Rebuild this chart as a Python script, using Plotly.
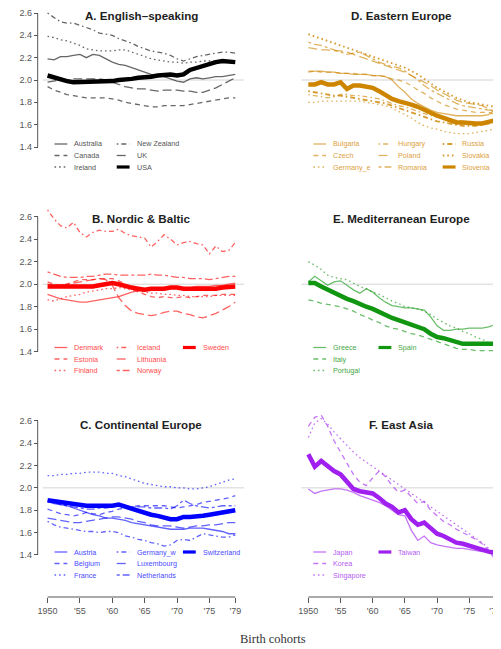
import plotly.graph_objects as go

# ---------------- data (completed cohort fertility) ----------------
years = list(range(1950, 1980))
tick_years = [1950, 1955, 1960, 1965, 1970, 1975, 1979]
tick_labels = ["1950", "'55", "'60", "'65", "'70", "'75", "'79"]
y_ticks = [1.4, 1.6, 1.8, 2.0, 2.2, 2.4, 2.6]
y_tick_labels = ["1.4", "1.6", "1.8", "2.0", "2.2", "2.4", "2.6"]

# A. English-speaking
australia = [2.19, 2.18, 2.21, 2.21, 2.22, 2.23, 2.20, 2.23, 2.22, 2.19, 2.16, 2.14, 2.13, 2.11, 2.09,
             2.07, 2.05, 2.04, 2.03, 2.01, 1.99, 1.98, 2.01, 2.02, 2.01, 2.02, 2.03, 2.03, 2.04, 2.05]
canada = [1.94, 1.91, 1.89, 1.87, 1.86, 1.85, 1.84, 1.84, 1.84, 1.84, 1.83, 1.82, 1.80, 1.79, 1.78,
          1.77, 1.76, 1.76, 1.77, 1.77, 1.77, 1.77, 1.78, 1.79, 1.80, 1.81, 1.82, 1.83, 1.84, 1.84]
ireland = [2.39, 2.38, 2.36, 2.35, 2.33, 2.31, 2.28, 2.27, 2.26, 2.26, 2.26, 2.27, 2.27, 2.25, 2.23,
           2.21, 2.19, 2.18, 2.17, 2.16, 2.16, 2.15, 2.16, 2.16, 2.17, 2.17, 2.17, 2.16, 2.16, 2.15]
new_zealand = [2.60, 2.56, 2.52, 2.51, 2.51, 2.49, 2.47, 2.45, 2.42, 2.41, 2.40, 2.37, 2.35, 2.33, 2.30,
               2.28, 2.26, 2.25, 2.24, 2.22, 2.19, 2.17, 2.19, 2.21, 2.22, 2.23, 2.24, 2.25, 2.25, 2.24]
uk = [1.98, 1.99, 2.00, 2.00, 2.01, 2.01, 2.01, 2.01, 2.01, 2.00, 1.98, 1.96, 1.94, 1.93, 1.92,
      1.92, 1.91, 1.90, 1.91, 1.91, 1.91, 1.90, 1.90, 1.89, 1.89, 1.91, 1.93, 1.96, 1.99, 2.02]
usa = [2.04, 2.02, 2.00, 1.99, 1.98, 1.98, 1.98, 1.99, 1.99, 1.99, 1.99, 2.00, 2.00, 2.01, 2.02,
       2.02, 2.03, 2.04, 2.05, 2.05, 2.04, 2.05, 2.09, 2.11, 2.13, 2.14, 2.16, 2.17, 2.17, 2.16]

# B. Nordic & Baltic
denmark = [1.91, 1.89, 1.87, 1.86, 1.85, 1.84, 1.84, 1.85, 1.86, 1.87, 1.88, 1.89, 1.91, 1.93, 1.94,
           1.94, 1.95, 1.96, 1.96, 1.96, 1.97, 1.97, 1.97, 1.98, 1.98, 1.98, 1.99, 1.99, 2.00, 2.01]
estonia = [2.02, 2.00, 1.99, 2.00, 2.02, 2.04, 2.04, 2.04, 2.05, 2.05, 2.05, 2.03, 2.00, 1.96, 1.93,
           1.91, 1.89, 1.88, 1.89, 1.88, 1.88, 1.89, 1.88, 1.89, 1.90, 1.90, 1.90, 1.91, 1.91, 1.91]
finland = [1.86, 1.85, 1.87, 1.89, 1.90, 1.91, 1.93, 1.94, 1.95, 1.96, 1.96, 1.97, 1.96, 1.95, 1.94,
           1.93, 1.92, 1.92, 1.91, 1.91, 1.90, 1.90, 1.89, 1.89, 1.89, 1.89, 1.90, 1.90, 1.90, 1.90]
iceland = [2.66, 2.58, 2.52, 2.50, 2.55, 2.46, 2.42, 2.46, 2.48, 2.47, 2.47, 2.49, 2.45, 2.43, 2.42,
           2.41, 2.33, 2.38, 2.44, 2.40, 2.35, 2.37, 2.38, 2.36, 2.35, 2.27, 2.34, 2.29, 2.30, 2.37]
lithuania = [2.00, 1.99, 1.99, 2.00, 2.01, 2.02, 2.03, 2.04, 2.05, 2.04, 1.99, 1.88, 1.81, 1.76, 1.74,
             1.73, 1.72, 1.73, 1.75, 1.76, 1.76, 1.74, 1.73, 1.71, 1.70, 1.72, 1.74, 1.77, 1.80, 1.84]
norway = [2.11, 2.09, 2.07, 2.06, 2.06, 2.06, 2.07, 2.07, 2.08, 2.09, 2.09, 2.08, 2.08, 2.08, 2.08,
          2.08, 2.09, 2.08, 2.08, 2.07, 2.06, 2.06, 2.05, 2.05, 2.05, 2.04, 2.05, 2.06, 2.07, 2.07]
sweden = [1.98, 1.98, 1.98, 1.97, 1.97, 1.97, 1.98, 1.98, 1.99, 2.00, 2.01, 2.00, 1.98, 1.97, 1.96,
          1.95, 1.96, 1.96, 1.96, 1.97, 1.97, 1.96, 1.96, 1.95, 1.95, 1.95, 1.96, 1.97, 1.97, 1.98]

# C. Continental Europe
austria = [1.88, 1.86, 1.85, 1.84, 1.82, 1.80, 1.78, 1.76, 1.75, 1.73, 1.73, 1.72, 1.71, 1.69, 1.68,
           1.67, 1.66, 1.65, 1.64, 1.63, 1.63, 1.63, 1.64, 1.64, 1.64, 1.63, 1.62, 1.61, 1.59, 1.59]
belgium = [1.81, 1.79, 1.77, 1.76, 1.75, 1.76, 1.78, 1.77, 1.76, 1.78, 1.79, 1.81, 1.82, 1.83, 1.84,
           1.84, 1.84, 1.84, 1.84, 1.83, 1.82, 1.83, 1.84, 1.85, 1.87, 1.88, 1.89, 1.90, 1.91, 1.93]
france = [2.11, 2.11, 2.12, 2.12, 2.13, 2.13, 2.14, 2.14, 2.14, 2.13, 2.13, 2.11, 2.10, 2.08, 2.06,
          2.04, 2.03, 2.02, 2.01, 2.01, 2.00, 2.00, 1.99, 1.99, 2.00, 2.01, 2.03, 2.05, 2.07, 2.08]
germany_w = [1.70, 1.67, 1.65, 1.64, 1.63, 1.62, 1.61, 1.61, 1.60, 1.61, 1.61, 1.60, 1.57, 1.56, 1.54,
             1.53, 1.51, 1.50, 1.48, 1.49, 1.53, 1.54, 1.53, 1.56, 1.59, 1.58, 1.57, 1.56, 1.56, 1.58]
luxembourg = [1.73, 1.72, 1.71, 1.70, 1.69, 1.69, 1.70, 1.71, 1.72, 1.73, 1.74, 1.74, 1.73, 1.72, 1.70,
              1.69, 1.67, 1.66, 1.66, 1.66, 1.65, 1.64, 1.65, 1.66, 1.66, 1.67, 1.67, 1.68, 1.69, 1.69]
netherlands = [1.88, 1.87, 1.85, 1.84, 1.83, 1.82, 1.81, 1.81, 1.82, 1.82, 1.83, 1.84, 1.84, 1.83, 1.83,
               1.83, 1.82, 1.82, 1.82, 1.81, 1.84, 1.89, 1.86, 1.84, 1.83, 1.82, 1.83, 1.84, 1.84, 1.84]
switzerland = [1.89, 1.88, 1.87, 1.86, 1.85, 1.85, 1.84, 1.84, 1.84, 1.83, 1.84, 1.85, 1.83, 1.81, 1.79,
               1.78, 1.76, 1.75, 1.73, 1.72, 1.72, 1.74, 1.74, 1.74, 1.75, 1.76, 1.77, 1.78, 1.79, 1.80]

# D. Eastern Europe
bulgaria = [2.07, 2.08, 2.08, 2.07, 2.07, 2.06, 2.06, 2.05, 2.05, 2.05, 2.04, 2.04, 2.03, 2.00, 1.94,
            1.89, 1.83, 1.79, 1.76, 1.73, 1.71, 1.70, 1.69, 1.68, 1.68, 1.68, 1.68, 1.68, 1.69, 1.73]
czech = [2.08, 2.08, 2.07, 2.07, 2.07, 2.06, 2.06, 2.06, 2.05, 2.05, 2.04, 2.04, 2.03, 2.01, 2.00,
         1.98, 1.95, 1.91, 1.88, 1.84, 1.81, 1.78, 1.76, 1.74, 1.73, 1.72, 1.71, 1.71, 1.71, 1.69]
germany_e = [1.80, 1.80, 1.81, 1.81, 1.81, 1.81, 1.81, 1.81, 1.81, 1.80, 1.79, 1.78, 1.77, 1.75, 1.72,
             1.69, 1.66, 1.62, 1.59, 1.57, 1.56, 1.54, 1.53, 1.52, 1.52, 1.52, 1.53, 1.54, 1.55, 1.56]
hungary = [1.87, 1.86, 1.85, 1.84, 1.85, 1.87, 1.87, 1.86, 1.86, 1.85, 1.84, 1.83, 1.81, 1.79, 1.77,
           1.76, 1.74, 1.72, 1.70, 1.68, 1.67, 1.66, 1.65, 1.64, 1.63, 1.62, 1.61, 1.61, 1.62, 1.64]
poland = [2.29, 2.28, 2.27, 2.27, 2.26, 2.26, 2.25, 2.23, 2.21, 2.19, 2.17, 2.15, 2.13, 2.11, 2.09,
          2.07, 2.04, 2.01, 1.98, 1.95, 1.91, 1.88, 1.85, 1.82, 1.80, 1.79, 1.78, 1.77, 1.74, 1.71]
romania = [2.34, 2.32, 2.31, 2.29, 2.27, 2.25, 2.23, 2.24, 2.25, 2.22, 2.19, 2.16, 2.14, 2.12, 2.11,
           2.08, 2.04, 2.00, 1.95, 1.91, 1.88, 1.85, 1.82, 1.79, 1.77, 1.76, 1.75, 1.74, 1.73, 1.73]
russia = [1.90, 1.89, 1.88, 1.87, 1.86, 1.86, 1.85, 1.84, 1.83, 1.82, 1.81, 1.80, 1.79, 1.77, 1.75,
          1.73, 1.71, 1.69, 1.67, 1.65, 1.63, 1.62, 1.61, 1.60, 1.59, 1.59, 1.59, 1.60, 1.61, 1.62]
slovakia = [2.41, 2.39, 2.37, 2.35, 2.33, 2.31, 2.29, 2.27, 2.25, 2.23, 2.21, 2.19, 2.17, 2.15, 2.13,
            2.11, 2.08, 2.05, 2.01, 1.97, 1.93, 1.90, 1.87, 1.84, 1.82, 1.80, 1.79, 1.78, 1.77, 1.76]
slovenia = [1.96, 1.96, 1.98, 1.96, 1.96, 1.98, 1.92, 1.95, 1.95, 1.94, 1.93, 1.90, 1.86, 1.83, 1.81,
            1.80, 1.78, 1.76, 1.73, 1.70, 1.68, 1.66, 1.64, 1.62, 1.62, 1.61, 1.61, 1.61, 1.62, 1.64]

# E. Mediterranean Europe
greece = [2.02, 2.07, 2.03, 1.99, 2.02, 2.03, 1.99, 1.95, 1.92, 1.96, 1.93, 1.88, 1.84, 1.81, 1.80,
          1.79, 1.79, 1.78, 1.77, 1.71, 1.63, 1.59, 1.59, 1.60, 1.60, 1.61, 1.61, 1.61, 1.62, 1.64]
italy = [1.86, 1.85, 1.83, 1.82, 1.81, 1.80, 1.78, 1.76, 1.73, 1.71, 1.68, 1.66, 1.63, 1.61, 1.60,
         1.58, 1.56, 1.55, 1.53, 1.51, 1.49, 1.47, 1.45, 1.43, 1.42, 1.42, 1.41, 1.41, 1.41, 1.41]
portugal = [2.20, 2.17, 2.13, 2.08, 2.06, 2.05, 2.04, 2.01, 1.98, 1.96, 1.93, 1.91, 1.88, 1.85, 1.83,
            1.80, 1.79, 1.78, 1.76, 1.73, 1.69, 1.66, 1.63, 1.61, 1.58, 1.56, 1.53, 1.51, 1.48, 1.45]
spain = [2.01, 2.01, 1.98, 1.95, 1.92, 1.89, 1.87, 1.85, 1.82, 1.80, 1.78, 1.75, 1.72, 1.70, 1.68,
         1.66, 1.65, 1.62, 1.60, 1.56, 1.53, 1.52, 1.50, 1.49, 1.47, 1.47, 1.47, 1.47, 1.47, 1.47]

# F. East Asia
japan = [1.99, 1.95, 1.97, 1.98, 1.99, 1.99, 1.98, 1.96, 1.93, 1.91, 1.89, 1.87, 1.84, 1.80, 1.76,
         1.75, 1.62, 1.53, 1.57, 1.51, 1.49, 1.48, 1.47, 1.46, 1.46, 1.45, 1.44, 1.43, 1.43, 1.42]
korea = [2.55, 2.63, 2.65, 2.55, 2.42, 2.32, 2.22, 2.12, 2.05, 2.02, 2.09, 2.15, 2.10, 2.02, 1.96,
         1.98, 1.92, 1.86, 1.88, 1.80, 1.75, 1.70, 1.67, 1.63, 1.60, 1.57, 1.54, 1.50, 1.44, 1.36]
singapore = [2.45, 2.58, 2.62, 2.57, 2.50, 2.44, 2.38, 2.32, 2.27, 2.23, 2.19, 2.15, 2.11, 2.07, 2.03,
             1.99, 1.95, 1.91, 1.87, 1.83, 1.79, 1.75, 1.71, 1.67, 1.63, 1.59, 1.55, 1.51, 1.46, 1.39]
taiwan = [2.30, 2.19, 2.24, 2.19, 2.15, 2.12, 2.05, 1.99, 1.97, 1.96, 1.95, 1.91, 1.86, 1.83, 1.78,
          1.80, 1.72, 1.67, 1.69, 1.64, 1.59, 1.57, 1.54, 1.51, 1.50, 1.48, 1.46, 1.45, 1.43, 1.42]

# ---------------- styling / layout ----------------
PAGE_W, PAGE_H = 501, 649
OFF = 8                      # default page margin around the plot div
FW, FH = PAGE_W - OFF, PAGE_H - OFF
THIN, THICK = 1.3, 4.5
DASH = {
    "solid": "solid",
    "dash": "5px,4px",
    "dot": "1.6px,3px",
    "dashdot": "1.6px,3px,5px,3px",
    "longdash": "9px,4px",
    "twodash": "3px,3px,8px,3px",
}
CYCLE = ["solid", "dash", "dot", "dashdot", "longdash", "twodash"]

panels = [
    dict(title="A. English\u2013speaking", side="left", row=1,
         names=["Australia", "Canada", "Ireland", "New Zealand", "UK", "USA"],
         values=[australia, canada, ireland, new_zealand, uk, usa],
         rgb=(0, 0, 0), thin_alpha=0.6, text_color="#555555"),
    dict(title="B. Nordic & Baltic", side="left", row=2,
         names=["Denmark", "Estonia", "Finland", "Iceland", "Lithuania", "Norway", "Sweden"],
         values=[denmark, estonia, finland, iceland, lithuania, norway, sweden],
         rgb=(255, 0, 0), thin_alpha=0.62, text_color="#FF4A4A"),
    dict(title="C. Continental Europe", side="left", row=3,
         names=["Austria", "Belgium", "France", "Germany_w", "Luxembourg", "Netherlands", "Switzerland"],
         values=[austria, belgium, france, germany_w, luxembourg, netherlands, switzerland],
         rgb=(0, 0, 255), thin_alpha=0.62, text_color="#4A4AFF"),
    dict(title="D. Eastern Europe", side="right", row=1,
         names=["Bulgaria", "Czech", "Germany_e", "Hungary", "Poland", "Romania", "Russia", "Slovakia", "Slovenia"],
         values=[bulgaria, czech, germany_e, hungary, poland, romania, russia, slovakia, slovenia],
         rgb=(205, 133, 0), thin_alpha=0.62, text_color="#DDA040"),
    dict(title="E. Mediterranean Europe", side="right", row=2,
         names=["Greece", "Italy", "Portugal", "Spain"],
         values=[greece, italy, portugal, spain],
         rgb=(16, 150, 16), thin_alpha=0.62, text_color="#45A845"),
    dict(title="F. East Asia", side="right", row=3,
         names=["Japan", "Korea", "Singapore", "Taiwan"],
         values=[japan, korea, singapore, taiwan],
         rgb=(160, 32, 240), thin_alpha=0.62, text_color="#B55CF2"),
]

# page-pixel geometry (converted to paper fractions below)
X_DOM_PX = {"left": (38, 242), "right": (300, PAGE_W)}
X_RNG = {"left": [1949.24, 1980.37], "right": [1948.93, 1979.77]}
ROW_PIX = {1: (13.0, 147.0), 2: (216.7, 351.7), 3: (420.7, 555.0)}   # pixels of 2.6 and 1.4
YLO, YHI = 1.35, 2.7
TITLE_Y = {1: 15.5, 2: 218.5, 3: 424.0}
TITLE_X = {"left": 138, "right": 401}
LEG_TEXT_X = {"left": [68, 131, 198], "right": [330, 396, 461]}
LEG_ROW_Y = {1: [144, 155.5, 167], 2: [347.5, 359, 370.5], 3: [552, 563.5, 575]}
LEG_ROWS = 3
Y_AXIS_PX = 33
X_AXIS_PX = 597


def fx(p):
    return (p - OFF) / FW


def fy(p):
    return 1 - (p - OFF) / FH


def yaxis_geom(row):
    """domain (paper) and value range so that 2.6 / 1.4 land on the reference pixels"""
    top, bot = ROW_PIX[row]
    ppu = (bot - top) / 1.2
    ptop = max(top - (YHI - 2.6) * ppu, OFF)
    pbot = bot + (1.4 - YLO) * ppu
    hi = 2.6 + (top - ptop) / ppu
    lo = 1.4 - (pbot - bot) / ppu
    return [fy(pbot), fy(ptop)], [lo, hi]


def rgba(rgb, a):
    return "rgba(%d,%d,%d,%.2f)" % (rgb[0], rgb[1], rgb[2], a)


def series_style(p, i):
    n = len(p["names"])
    col_thin = rgba(p["rgb"], p["thin_alpha"])
    if i == n - 1:
        return dict(color=rgba(p["rgb"], 1.0), width=THICK, dash="solid")
    if p["title"].startswith("D.") and i >= 6:
        return dict(color=rgba(p["rgb"], 0.8), width=1.9, dash=DASH[["dashdot", "dot"][i - 6]])
    return dict(color=col_thin, width=THIN, dash=DASH[CYCLE[i % 6]])


fig = go.Figure()
shapes, annotations = [], []
layout_axes = {}
axis_font = dict(family="Liberation Sans, Arial, sans-serif", size=9, color="#555555")

for k, p in enumerate(panels, start=1):
    xs = "x" if k == 1 else "x%d" % k
    ys = "y" if k == 1 else "y%d" % k
    xname = "xaxis" if k == 1 else "xaxis%d" % k
    yname = "yaxis" if k == 1 else "yaxis%d" % k
    side, row = p["side"], p["row"]

    # series lines
    for i, (nm, vals) in enumerate(zip(p["names"], p["values"])):
        fig.add_trace(go.Scatter(x=years, y=vals, mode="lines", name=nm, xaxis=xs, yaxis=ys,
                                 line=series_style(p, i), showlegend=False, hoverinfo="skip"))

    # axes
    x0p, x1p = X_DOM_PX[side]
    xa = dict(domain=[fx(x0p), min(1.0, fx(x1p))], range=X_RNG[side], showgrid=False,
              zeroline=False, showline=False, fixedrange=True)
    if row == 3:
        xa.update(anchor="free", position=fy(X_AXIS_PX), tickmode="array",
                  tickvals=tick_years, ticktext=tick_labels, ticks="outside", ticklen=5,
                  tickwidth=1, tickcolor="#555555", tickfont=axis_font,
                  ticklabeloverflow="allow")
        shapes.append(dict(type="line", xref=xs, yref="paper", x0=tick_years[0], x1=tick_years[-1],
                           y0=fy(X_AXIS_PX), y1=fy(X_AXIS_PX),
                           line=dict(color="#555555", width=1)))
    else:
        xa.update(anchor=ys, showticklabels=False, ticks="")
    layout_axes[xname] = xa

    ydom, yrng = yaxis_geom(row)
    ya = dict(domain=ydom, range=yrng, showgrid=False, zeroline=False,
              showline=False, fixedrange=True)
    if side == "left":
        ya.update(anchor="free", position=fx(Y_AXIS_PX), tickmode="array", tickvals=y_ticks,
                  ticktext=y_tick_labels, ticks="outside", ticklen=4, tickwidth=1,
                  tickcolor="#555555", tickfont=axis_font)
        shapes.append(dict(type="line", xref="paper", yref=ys, x0=fx(Y_AXIS_PX), x1=fx(Y_AXIS_PX),
                           y0=y_ticks[0], y1=y_ticks[-1], line=dict(color="#555555", width=1)))
    else:
        ya.update(anchor=xs, showticklabels=False, ticks="")
    layout_axes[yname] = ya

    # reference line at replacement level
    shapes.append(dict(type="line", xref=xs + " domain", yref=ys, x0=0, x1=1, y0=2.0, y1=2.0,
                       line=dict(color="#D4D4D4", width=1), layer="below"))

    # panel title
    annotations.append(dict(text="<b>%s</b>" % p["title"], xref="paper", yref="paper",
                            x=fx(TITLE_X[side]), y=fy(TITLE_Y[row]), xanchor="center",
                            yanchor="middle", showarrow=False,
                            font=dict(family="Liberation Sans, Arial, sans-serif", size=11.6,
                                      color="#1E1E1E")))

    # legend (R style, filled column-wise)
    for i, nm in enumerate(p["names"]):
        c, r = divmod(i, LEG_ROWS)
        tx = LEG_TEXT_X[side][c]
        ty = fy(LEG_ROW_Y[row][r])
        st = series_style(p, i)
        key_w = st["width"] if st["width"] < THICK else 3.2
        shapes.append(dict(type="line", xref="paper", yref="paper", x0=fx(tx - 18),
                           x1=fx(tx - 5), y0=ty, y1=ty,
                           line=dict(color=st["color"], width=key_w, dash=st["dash"])))
        annotations.append(dict(text=nm, xref="paper", yref="paper", x=fx(tx), y=ty,
                                xanchor="left", yanchor="middle", showarrow=False,
                                font=dict(family="Liberation Sans, Arial, sans-serif", size=7.2,
                                          color=p["text_color"])))

annotations.append(dict(text="Birth cohorts", xref="paper", yref="paper", x=fx(271), y=fy(639),
                        xanchor="center", yanchor="middle", showarrow=False,
                        font=dict(family="Liberation Serif, Times New Roman, serif", size=12.5,
                                  color="#333333")))

fig.update_layout(width=FW, height=FH, margin=dict(l=0, r=0, t=0, b=0),
                  paper_bgcolor="white", plot_bgcolor="white", showlegend=False,
                  shapes=shapes, annotations=annotations, **layout_axes)

fig.write_html("out.html")
